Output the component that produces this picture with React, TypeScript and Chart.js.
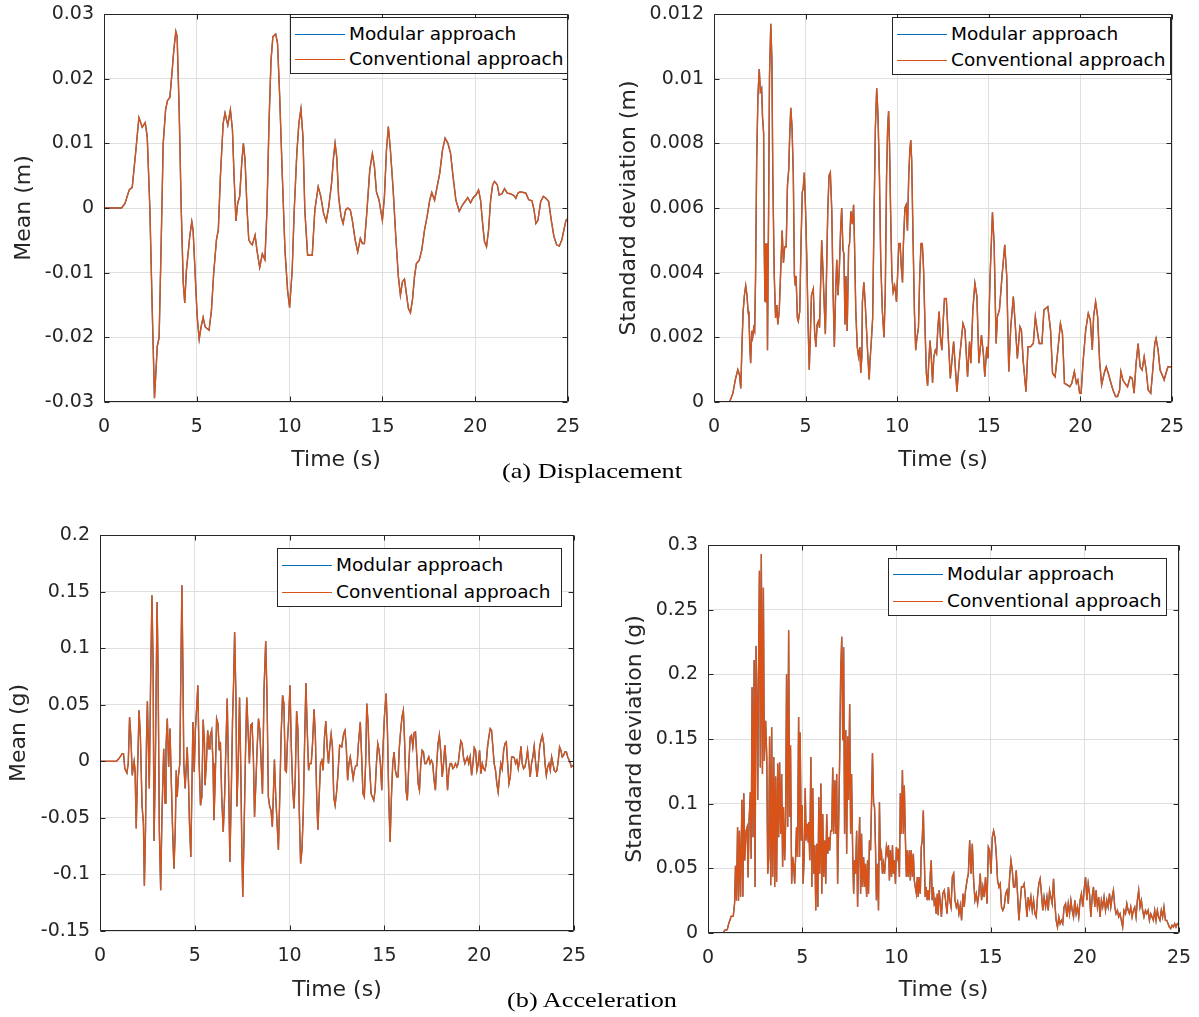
import React, { useEffect, useRef } from "react";
import { Chart, registerables } from "chart.js";

Chart.register(...registerables);

// ---------------- DATA ----------------
// [time (s), value] samples.
// The modular and conventional curves coincide to within a pixel in every panel.

const timeTicks = [0, 5, 10, 15, 20, 25];
const dispMeanTicks = [-0.03, -0.02, -0.01, 0, 0.01, 0.02, 0.03];
const dispStdTicks = [0, 0.002, 0.004, 0.006, 0.008, 0.01, 0.012];
const accMeanTicks = [-0.15, -0.1, -0.05, 0, 0.05, 0.1, 0.15, 0.2];
const accStdTicks = [0, 0.05, 0.1, 0.15, 0.2, 0.25, 0.3];

const dispMeanConventional: [number, number][] = [
  [0, 0], [0.95, 0], [1.13, 0.0007], [1.36, 0.0028], [1.52, 0.0032], [1.72, 0.009], [1.88, 0.014],
  [2.06, 0.0125], [2.22, 0.0132], [2.33, 0.011], [2.47, 0], [2.6, -0.0158], [2.72, -0.0294],
  [2.87, -0.0214], [2.97, -0.02], [3.08, -0.0055], [3.19, 0.01], [3.32, 0.0152], [3.42, 0.0166],
  [3.55, 0.0171], [3.66, 0.0208], [3.76, 0.0244], [3.87, 0.0273], [3.94, 0.0265], [4.05, 0.0152],
  [4.16, 0], [4.27, -0.0116], [4.35, -0.0147], [4.44, -0.0096], [4.55, -0.0065], [4.62, -0.0044],
  [4.73, -0.0021], [4.8, -0.0034], [4.91, -0.0101], [5.02, -0.0168], [5.13, -0.0203], [5.23, -0.0184],
  [5.34, -0.0169], [5.45, -0.0184], [5.66, -0.0189], [5.79, -0.0158], [5.91, -0.0101], [6.06, -0.0049],
  [6.16, -0.0034], [6.27, 0.0048], [6.42, 0.0131], [6.52, 0.0147], [6.67, 0.0128], [6.81, 0.0152],
  [6.92, 0.0121], [7.01, 0.0048], [7.11, -0.002], [7.2, 0.0007], [7.31, 0.0018], [7.42, 0.0069],
  [7.51, 0.01], [7.6, 0.0074], [7.71, -0.0003], [7.8, -0.0049], [7.89, -0.0054], [7.99, -0.0057],
  [8.14, -0.0042], [8.24, -0.0065], [8.39, -0.0092], [8.53, -0.0071], [8.67, -0.008], [8.78, -0.0003],
  [8.89, 0.0131], [9.0, 0.0229], [9.1, 0.0265], [9.25, 0.0269], [9.35, 0.0255], [9.46, 0.0177],
  [9.61, 0.0048], [9.75, -0.0065], [9.89, -0.0127], [10.0, -0.0154], [10.14, -0.0096], [10.25, -0.0003],
  [10.39, 0.0085], [10.5, 0.0131], [10.61, 0.0153], [10.72, 0.011], [10.82, -0.0003], [10.97, -0.0073],
  [11.22, -0.0073], [11.36, -0.0003], [11.54, 0.0033], [11.68, 0.0018], [11.83, -0.0008], [11.97, -0.0021],
  [12.11, 0.0002], [12.26, 0.0038], [12.37, 0.0079], [12.45, 0.01], [12.54, 0.0079], [12.64, 0.0018],
  [12.77, -0.0013], [12.88, -0.0024], [13.02, -0.0003], [13.13, 0], [13.27, -0.0003], [13.38, -0.0019],
  [13.53, -0.0049], [13.67, -0.0068], [13.81, -0.0047], [13.92, -0.0055], [14.03, -0.0055], [14.17, -0.0003],
  [14.32, 0.0059], [14.46, 0.0084], [14.57, 0.0064], [14.68, 0.0025], [14.82, 0.0012], [15.0, -0.0019],
  [15.11, 0.0018], [15.22, 0.009], [15.32, 0.0126], [15.43, 0.009], [15.58, 0.0028], [15.72, -0.0044],
  [15.86, -0.0106], [15.97, -0.0135], [16.08, -0.0114], [16.19, -0.011], [16.29, -0.0132], [16.4, -0.0155],
  [16.51, -0.0162], [16.62, -0.0142], [16.73, -0.0106], [16.83, -0.0086], [16.98, -0.0081], [17.12, -0.0065],
  [17.27, -0.0034], [17.41, -0.0013], [17.55, 0.0012], [17.66, 0.0024], [17.81, 0.0012], [17.95, 0.0033],
  [18.09, 0.0054], [18.24, 0.009], [18.38, 0.0108], [18.53, 0.01], [18.67, 0.0085], [18.81, 0.0048],
  [18.96, 0.0012], [19.14, -0.0005], [19.32, 0.0005], [19.5, 0.0012], [19.6, 0.0016], [19.75, 0.0008],
  [19.89, 0.0016], [20.04, 0.002], [20.18, 0.0028], [20.29, 0.0012], [20.4, -0.0024], [20.5, -0.0052],
  [20.61, -0.006], [20.72, -0.0034], [20.83, 0.0012], [20.94, 0.0036], [21.04, 0.0041], [21.19, 0.0036],
  [21.29, 0.002], [21.44, 0.0022], [21.58, 0.003], [21.73, 0.0023], [21.91, 0.0022], [22.09, 0.0019],
  [22.19, 0.0015], [22.3, 0.0023], [22.41, 0.0025], [22.59, 0.0024], [22.73, 0.0023], [22.88, 0.0013],
  [23.06, 0.0011], [23.17, -0.0003], [23.27, -0.0024], [23.38, -0.0019], [23.53, 0.001], [23.67, 0.0018],
  [23.81, 0.0015], [23.96, 0.001], [24.1, -0.0019], [24.24, -0.0044], [24.39, -0.0057], [24.53, -0.0059],
  [24.67, -0.0049], [24.78, -0.0034], [24.89, -0.0019], [25.0, -0.0016],
];
const dispMeanModular = dispMeanConventional;

const dispStdConventional: [number, number][] = [
  [0, 0], [0.85, 0], [1.03, 0.00027], [1.16, 0.00068], [1.3, 0.001], [1.39, 0.00084], [1.46, 0.00042],
  [1.53, 0.0018], [1.59, 0.0028], [1.66, 0.0033], [1.73, 0.0036], [1.8, 0.0033], [1.86, 0.0028],
  [1.91, 0.0026], [1.95, 0.0018], [2.0, 0.0012], [2.06, 0.0022], [2.11, 0.002], [2.17, 0.0023],
  [2.22, 0.0022], [2.27, 0.0039], [2.33, 0.0075], [2.4, 0.0095], [2.47, 0.0103], [2.53, 0.0096],
  [2.6, 0.0097], [2.65, 0.0088], [2.71, 0.0083], [2.74, 0.0049], [2.78, 0.0031], [2.82, 0.0049],
  [2.85, 0.0031], [2.89, 0.0049], [2.92, 0.0016], [2.98, 0.0059], [3.03, 0.0101], [3.1, 0.0117],
  [3.16, 0.0106], [3.21, 0.007], [3.29, 0.0039], [3.36, 0.0026], [3.43, 0.003], [3.48, 0.0024],
  [3.56, 0.0028], [3.63, 0.0039], [3.72, 0.0053], [3.79, 0.0043], [3.86, 0.0048], [3.94, 0.0048],
  [4.01, 0.0067], [4.08, 0.0072], [4.13, 0.0082], [4.19, 0.0091], [4.26, 0.0085], [4.33, 0.007],
  [4.39, 0.0039], [4.44, 0.0036], [4.48, 0.0039], [4.55, 0.0026], [4.6, 0.0025], [4.68, 0.0028],
  [4.75, 0.0049], [4.82, 0.0065], [4.87, 0.0066], [4.93, 0.0071], [5.0, 0.0059], [5.07, 0.0043],
  [5.14, 0.0023], [5.2, 0.001], [5.27, 0.0023], [5.32, 0.0033], [5.42, 0.0035], [5.49, 0.0022],
  [5.56, 0.0017], [5.63, 0.0024], [5.7, 0.0025], [5.76, 0.0023], [5.83, 0.0039], [5.88, 0.005],
  [5.96, 0.0039], [6.03, 0.0028], [6.08, 0.0021], [6.14, 0.0039], [6.21, 0.0059], [6.28, 0.007],
  [6.35, 0.0071], [6.43, 0.0059], [6.5, 0.0034], [6.57, 0.0017], [6.64, 0.0034], [6.7, 0.0044],
  [6.77, 0.0033], [6.84, 0.0041], [6.91, 0.0053], [6.97, 0.006], [7.04, 0.0047], [7.09, 0.0046],
  [7.15, 0.0024], [7.2, 0.0039], [7.27, 0.0022], [7.35, 0.0048], [7.4, 0.0049], [7.47, 0.0059],
  [7.55, 0.0055], [7.62, 0.0061], [7.67, 0.0049], [7.74, 0.0028], [7.82, 0.0017], [7.89, 0.0014],
  [7.96, 0.0017], [8.01, 0.0009], [8.07, 0.0014], [8.1, 0.0031], [8.18, 0.0037], [8.25, 0.0031],
  [8.32, 0.0023], [8.39, 0.0015], [8.47, 0.0007], [8.52, 0.0013], [8.59, 0.0019], [8.66, 0.0026],
  [8.74, 0.0059], [8.81, 0.0085], [8.88, 0.0097], [8.95, 0.0089], [9.03, 0.007], [9.1, 0.0044],
  [9.19, 0.0028], [9.28, 0.002], [9.35, 0.0034], [9.42, 0.007], [9.48, 0.0085], [9.53, 0.009],
  [9.58, 0.008], [9.64, 0.0059], [9.71, 0.0039], [9.78, 0.0034], [9.86, 0.0036], [9.91, 0.0034],
  [9.96, 0.0031], [10.02, 0.0039], [10.09, 0.0049], [10.16, 0.0049], [10.22, 0.0042], [10.29, 0.0037],
  [10.34, 0.0049], [10.42, 0.006], [10.49, 0.0061], [10.56, 0.0053], [10.63, 0.007], [10.69, 0.0078],
  [10.74, 0.0081], [10.79, 0.0075], [10.87, 0.0049], [10.94, 0.0028], [11.01, 0.0016], [11.08, 0.002],
  [11.16, 0.0023], [11.23, 0.0039], [11.3, 0.0049], [11.37, 0.0049], [11.44, 0.0041], [11.52, 0.0023],
  [11.59, 0.0009], [11.66, 0.0005], [11.73, 0.0013], [11.79, 0.0019], [11.86, 0.0014], [11.93, 0.0006],
  [12.0, 0.0014], [12.08, 0.0016], [12.15, 0.0015], [12.22, 0.0023], [12.29, 0.0028], [12.36, 0.002],
  [12.44, 0.0016], [12.51, 0.0025], [12.58, 0.0032], [12.68, 0.0032], [12.9, 0.00073], [13.08, 0.00187],
  [13.26, 0.00032], [13.41, 0.0014], [13.59, 0.00243], [13.7, 0.00223], [13.84, 0.00078], [13.95, 0.00187],
  [14.02, 0.0012], [14.13, 0.00285], [14.24, 0.00367], [14.35, 0.00326], [14.46, 0.0012], [14.6, 0.00207],
  [14.71, 0.00145], [14.78, 0.00078], [14.89, 0.00171], [14.96, 0.00135], [15.07, 0.00388], [15.2, 0.00587],
  [15.29, 0.00491], [15.4, 0.00181], [15.47, 0.00264], [15.58, 0.00285], [15.72, 0.00388], [15.87, 0.00486],
  [15.98, 0.00388], [16.09, 0.00094], [16.2, 0.00233], [16.34, 0.00326], [16.45, 0.00233], [16.56, 0.00135],
  [16.7, 0.00233], [16.78, 0.00223], [16.88, 0.00125], [17.03, 0.00032], [17.14, 0.00171], [17.28, 0.00171],
  [17.43, 0.00181], [17.54, 0.00264], [17.64, 0.00223], [17.75, 0.00181], [17.9, 0.00181], [18.01, 0.00285],
  [18.12, 0.0029], [18.22, 0.00295], [18.37, 0.00223], [18.48, 0.00089], [18.62, 0.00078], [18.77, 0.00161],
  [18.91, 0.00243], [19.02, 0.00212], [19.13, 0.00058], [19.28, 0.00053], [19.42, 0.00047], [19.53, 0.00058],
  [19.67, 0.00094], [19.78, 0.00058], [19.86, 0.00068], [19.96, 0.00027], [20.04, 0.00027], [20.14, 0.0012],
  [20.29, 0.00223], [20.43, 0.00274], [20.54, 0.00254], [20.65, 0.00161], [20.72, 0.00264], [20.83, 0.0031],
  [20.94, 0.00264], [21.05, 0.00125], [21.16, 0.00053], [21.3, 0.00089], [21.41, 0.00109], [21.52, 0.00089],
  [21.67, 0.00058], [21.78, 0.00037], [21.92, 0.00017], [22.03, 0.00017], [22.14, 0.00037], [22.21, 0.00094],
  [22.32, 0.00068], [22.43, 0.00058], [22.57, 0.00047], [22.72, 0.00078], [22.83, 0.00073], [22.93, 0.00027],
  [23.04, 0.0012], [23.15, 0.00181], [23.26, 0.00109], [23.37, 0.00099], [23.48, 0.0014], [23.59, 0.00099],
  [23.7, 0.00037], [23.84, 0.00027], [23.95, 0.00099], [24.06, 0.00181], [24.13, 0.00197], [24.24, 0.00161],
  [24.35, 0.00099], [24.46, 0.00084], [24.57, 0.00068], [24.67, 0.00089], [24.78, 0.00109], [25.0, 0.00109],
];
const dispStdModular = dispStdConventional;

const accMeanConventional: [number, number][] = [
  [0, 0], [0.86, 0], [1.0, 0.0024], [1.17, 0.0068], [1.24, 0.0068], [1.31, -0.0065], [1.42, -0.0103],
  [1.49, -0.002], [1.56, 0.039], [1.63, 0.0215], [1.7, -0.0124], [1.8, 0], [1.85, -0.008], [1.91, -0.0595],
  [1.99, -0.002], [2.06, 0.045], [2.13, 0.0215], [2.22, -0.04], [2.29, -0.055], [2.34, -0.11], [2.4, -0.061],
  [2.45, 0.0156], [2.5, 0.053], [2.57, -0.002], [2.6, -0.024], [2.67, 0.0716], [2.74, 0.1467], [2.8, 0.0863],
  [2.85, -0.0704], [2.92, -0.002], [3.01, 0.1408], [3.06, 0.0863], [3.13, -0.061], [3.2, -0.114], [3.27, -0.046],
  [3.36, 0.011], [3.43, -0.037], [3.48, 0.0127], [3.55, 0.0377], [3.62, -0.005], [3.69, 0.029], [3.76, -0.0168],
  [3.83, -0.061], [3.9, -0.0949], [3.97, -0.061], [4.02, -0.008], [4.07, -0.0315], [4.14, -0.0124], [4.21, -0.002],
  [4.27, 0.0863], [4.32, 0.1555], [4.37, 0.0863], [4.42, -0.002], [4.49, -0.024], [4.6, 0.0127], [4.67, -0.0197],
  [4.72, -0.055], [4.79, -0.0846], [4.84, -0.0315], [4.9, 0.0348], [4.97, -0.0094], [5.03, 0.0274], [5.09, 0.045],
  [5.16, 0.0672], [5.23, -0.002], [5.3, -0.0389], [5.37, -0.0315], [5.44, 0.0368], [5.51, 0.0156], [5.54, -0.0212],
  [5.61, -0.002], [5.68, 0.0274], [5.75, 0.011], [5.8, 0.0215], [5.89, 0.0274], [5.96, -0.002], [6.01, -0.052],
  [6.08, -0.0138], [6.15, 0.0377], [6.22, 0.0333], [6.29, 0.0097], [6.35, 0.0171], [6.42, -0.0315], [6.5, -0.0625],
  [6.57, -0.0315], [6.64, 0.0127], [6.71, 0.0554], [6.77, -0.002], [6.85, -0.089], [6.92, -0.0315], [6.99, 0.0362],
  [7.05, 0.0716], [7.1, 0.1143], [7.17, 0.0569], [7.22, -0.04], [7.29, -0.002], [7.36, 0.0563], [7.43, -0.0109],
  [7.48, -0.0757], [7.53, -0.12], [7.6, -0.061], [7.67, 0.0038], [7.74, 0.0563], [7.81, 0.0274], [7.88, -0.002],
  [7.95, 0.0318], [8.02, 0.0333], [8.09, 0.0038], [8.15, -0.0492], [8.22, -0.0197], [8.29, 0.0127], [8.36, 0.0377],
  [8.43, 0.0274], [8.5, -0.002], [8.57, -0.0286], [8.65, 0.0628], [8.74, 0.1064], [8.81, 0.0569], [8.88, -0.0315],
  [8.95, -0.04], [9.02, -0.0433], [9.09, -0.058], [9.14, -0.0315], [9.2, 0.0015], [9.27, -0.0315], [9.34, -0.055],
  [9.41, -0.0781], [9.48, -0.0315], [9.55, 0.0215], [9.63, 0.0583], [9.7, 0.051], [9.77, -0.008], [9.83, -0.0094],
  [9.88, 0.0156], [9.95, 0.0362], [10.02, 0.0672], [10.09, 0.0127], [10.16, -0.0227], [10.23, -0.0418],
  [10.3, -0.0138], [10.37, 0.0445], [10.44, 0.0274], [10.51, -0.0433], [10.58, -0.0904], [10.65, -0.0787],
  [10.72, -0.0463], [10.79, 0.0156], [10.86, 0.0692], [10.93, 0.0274], [11.0, -0.008], [11.05, -0.002],
  [11.14, -0.002], [11.21, 0.0156], [11.29, 0.046], [11.36, 0.0215], [11.43, -0.0315], [11.49, -0.0604],
  [11.56, -0.0315], [11.63, -0.002], [11.7, 0.0009], [11.77, -0.008], [11.84, 0.0215], [11.91, 0.0356],
  [11.98, 0.0127], [12.05, -0.002], [12.12, 0.0127], [12.19, 0.0239], [12.26, 0.0127], [12.33, -0.0315],
  [12.4, -0.0389], [12.47, -0.0286], [12.54, -0.0138], [12.64, 0.0141], [12.75, 0.0127], [12.85, 0.0245],
  [12.92, 0.0274], [12.99, 0.0127], [13.06, -0.0168], [13.13, -0.002], [13.2, 0.0038], [13.27, -0.005],
  [13.35, -0.0153], [13.42, -0.008], [13.49, -0.0038], [13.56, -0.0038], [13.63, 0.0156], [13.73, 0.0348],
  [13.8, 0.0038], [13.87, -0.0286], [13.94, -0.0315], [14.01, -0.002], [14.07, 0.051], [14.14, 0.0333],
  [14.21, -0.002], [14.3, -0.0286], [14.37, -0.0315], [14.44, -0.0345], [14.51, -0.0256], [14.58, -0.002],
  [14.65, 0.0156], [14.72, 0.0097], [14.79, -0.002], [14.86, -0.0256], [14.93, 0.0127], [15.0, 0.0392],
  [15.09, 0.0598], [15.16, 0.0274], [15.23, -0.0315], [15.3, -0.0713], [15.37, -0.0315], [15.44, -0.002],
  [15.51, 0.0082], [15.58, -0.008], [15.65, -0.0138], [15.72, -0.0138], [15.79, 0.0127], [15.86, 0.0274],
  [15.93, 0.0392], [16.0, 0.045], [16.07, 0.0156], [16.14, -0.0256], [16.21, -0.0345], [16.29, -0.002],
  [16.36, 0.0215], [16.43, 0.023], [16.5, 0.0127], [16.57, 0.0253], [16.64, 0.0259], [16.71, 0.0038],
  [16.78, -0.0197], [16.85, -0.0256], [16.92, -0.002], [16.99, 0.0097], [17.06, 0.0082], [17.13, -0.002],
  [17.2, -0.002], [17.27, 0.0009], [17.34, 0.0038], [17.41, -0.002], [17.48, 0.0009], [17.55, -0.002],
  [17.62, -0.0168], [17.69, -0.0256], [17.76, -0.002], [17.83, 0.0156], [17.9, 0.0233], [17.98, 0.0068],
  [18.05, -0.0138], [18.12, -0.002], [18.19, 0.0141], [18.26, -0.002], [18.33, -0.0256], [18.4, -0.008],
  [18.47, -0.002], [18.54, -0.002], [18.61, -0.0065], [18.68, -0.005], [18.75, -0.002], [18.82, -0.005],
  [18.89, -0.002], [18.96, 0.0082], [19.03, 0.018], [19.1, 0.0156], [19.17, 0.0038], [19.24, -0.002],
  [19.31, 0.0009], [19.38, 0.0038], [19.45, -0.002], [19.52, 0.0038], [19.6, -0.0124], [19.67, -0.002],
  [19.74, 0.0121], [19.81, 0.0097], [19.88, -0.008], [19.95, -0.002], [20.02, 0.0097], [20.09, -0.0109],
  [20.16, -0.002], [20.23, -0.0065], [20.3, -0.008], [20.37, -0.002], [20.44, 0.0127], [20.51, 0.0215],
  [20.58, 0.0289], [20.65, 0.0274], [20.72, 0.0127], [20.79, -0.002], [20.86, -0.008], [20.93, -0.0197],
  [21.0, -0.0271], [21.07, -0.0138], [21.14, -0.002], [21.21, -0.0068], [21.29, 0.0097], [21.36, 0.0156],
  [21.43, 0.0171], [21.5, -0.002], [21.57, -0.0197], [21.64, -0.0138], [21.71, 0.0038], [21.78, 0.0038],
  [21.85, 0.0032], [21.92, -0.002], [21.99, 0.0009], [22.06, -0.0065], [22.13, 0.0009], [22.2, 0.0133],
  [22.27, -0.002], [22.34, -0.0065], [22.41, -0.005], [22.48, 0.0009], [22.55, 0.0097], [22.62, -0.002],
  [22.69, -0.0138], [22.76, -0.002], [22.83, 0.0038], [22.9, 0.0133], [22.98, -0.002], [23.05, -0.0138],
  [23.12, -0.002], [23.19, 0.0127], [23.26, 0.0186], [23.33, 0.023], [23.4, 0.0156], [23.47, -0.002],
  [23.54, -0.0124], [23.61, -0.005], [23.68, -0.002], [23.75, -0.008], [23.82, 0.0038], [23.89, -0.002],
  [23.96, -0.008], [24.03, -0.0094], [24.1, -0.008], [24.17, 0.0009], [24.24, 0.0127], [24.31, 0.0097],
  [24.38, 0.0038], [24.45, 0.0053], [24.52, 0.0082], [24.6, 0.0082], [24.67, 0.0038], [24.74, 0.0009],
  [24.81, -0.002], [24.86, -0.005], [25.0, -0.003],
];
const accMeanModular = accMeanConventional;

const accStdConventional: [number, number][] = [
  [0, 0], [0.81, 0], [0.88, 0.002], [1.02, 0.0026], [1.09, 0.0067], [1.16, 0.0098], [1.23, 0.0129],
  [1.34, 0.0129], [1.41, 0.0227], [1.46, 0.052], [1.51, 0.025], [1.57, 0.082], [1.62, 0.025], [1.67, 0.079],
  [1.73, 0.028], [1.8, 0.103], [1.85, 0.028], [1.9, 0.108], [1.95, 0.056], [2.02, 0.079], [2.08, 0.082],
  [2.13, 0.043], [2.18, 0.087], [2.25, 0.109], [2.29, 0.0575], [2.34, 0.19], [2.39, 0.074], [2.45, 0.211],
  [2.5, 0.0356], [2.55, 0.222], [2.61, 0.167], [2.64, 0.103], [2.68, 0.2], [2.73, 0.28], [2.78, 0.128],
  [2.83, 0.293], [2.89, 0.123], [2.94, 0.267], [2.99, 0.133], [3.06, 0.164], [3.12, 0.136], [3.17, 0.0459],
  [3.22, 0.0575], [3.27, 0.152], [3.33, 0.0369], [3.38, 0.159], [3.43, 0.0433], [3.49, 0.136], [3.54, 0.0356],
  [3.59, 0.121], [3.64, 0.0394], [3.7, 0.131], [3.75, 0.074], [3.8, 0.132], [3.86, 0.0768], [3.91, 0.123],
  [3.96, 0.051], [4.01, 0.0974], [4.07, 0.0562], [4.12, 0.0845], [4.17, 0.2], [4.23, 0.082], [4.28, 0.234],
  [4.33, 0.0897], [4.38, 0.145], [4.44, 0.0381], [4.49, 0.0588], [4.54, 0.0536], [4.6, 0.0381], [4.65, 0.0588],
  [4.7, 0.082], [4.75, 0.0588], [4.81, 0.167], [4.86, 0.0588], [4.89, 0.155], [4.95, 0.0716], [5.0, 0.0987],
  [5.05, 0.0381], [5.11, 0.0613], [5.16, 0.112], [5.21, 0.0716], [5.26, 0.0845], [5.32, 0.0704], [5.35, 0.0858],
  [5.4, 0.0562], [5.46, 0.136], [5.51, 0.0356], [5.56, 0.112], [5.62, 0.0459], [5.67, 0.0678], [5.72, 0.0175],
  [5.77, 0.069], [5.83, 0.0201], [5.88, 0.105], [5.93, 0.0459], [5.99, 0.1155], [6.04, 0.0304], [6.09, 0.092],
  [6.14, 0.0433], [6.2, 0.0716], [6.25, 0.0381], [6.3, 0.092], [6.36, 0.0613], [6.41, 0.074], [6.46, 0.0639],
  [6.51, 0.079], [6.57, 0.079], [6.62, 0.128], [6.67, 0.0768], [6.73, 0.118], [6.78, 0.0768], [6.83, 0.123],
  [6.88, 0.0381], [6.94, 0.0897], [6.99, 0.137], [7.04, 0.2], [7.1, 0.229], [7.15, 0.149], [7.2, 0.221],
  [7.25, 0.0768], [7.31, 0.157], [7.36, 0.0613], [7.41, 0.152], [7.46, 0.103], [7.52, 0.177], [7.57, 0.0768],
  [7.62, 0.123], [7.68, 0.0613], [7.73, 0.0304], [7.78, 0.0562], [7.83, 0.0459], [7.89, 0.079], [7.94, 0.0201],
  [7.99, 0.0562], [8.05, 0.0897], [8.1, 0.0304], [8.15, 0.0768], [8.2, 0.0356], [8.26, 0.0588], [8.31, 0.0356],
  [8.36, 0.0536], [8.42, 0.0278], [8.47, 0.0562], [8.52, 0.0304], [8.57, 0.0716], [8.63, 0.0639], [8.68, 0.1],
  [8.73, 0.139], [8.79, 0.1], [8.84, 0.0974], [8.89, 0.0665], [8.94, 0.0253], [9.0, 0.0536], [9.05, 0.0175],
  [9.1, 0.101], [9.15, 0.0562], [9.21, 0.0613], [9.26, 0.0459], [9.31, 0.0536], [9.37, 0.0459], [9.42, 0.0562],
  [9.47, 0.0665], [9.52, 0.0613], [9.58, 0.0678], [9.63, 0.0407], [9.68, 0.0639], [9.74, 0.0433], [9.79, 0.0678],
  [9.84, 0.0459], [9.89, 0.0562], [9.95, 0.0381], [10.0, 0.0665], [10.05, 0.0588], [10.11, 0.0652],
  [10.16, 0.0433], [10.21, 0.108], [10.26, 0.0768], [10.32, 0.126], [10.37, 0.0768], [10.42, 0.114],
  [10.48, 0.0716], [10.53, 0.0433], [10.58, 0.0639], [10.63, 0.0433], [10.69, 0.0639], [10.74, 0.0407],
  [10.79, 0.0639], [10.85, 0.0433], [10.9, 0.0613], [10.95, 0.0407], [11.0, 0.0356], [11.06, 0.0304],
  [11.11, 0.0433], [11.16, 0.0278], [11.21, 0.0433], [11.27, 0.0304], [11.32, 0.0665], [11.37, 0.0716],
  [11.43, 0.0948], [11.48, 0.0588], [11.53, 0.0278], [11.58, 0.0356], [11.64, 0.0253], [11.69, 0.033],
  [11.74, 0.0253], [11.8, 0.0459], [11.85, 0.0562], [11.9, 0.0253], [11.95, 0.0356], [12.01, 0.0227],
  [12.06, 0.0253], [12.11, 0.0149], [12.17, 0.0304], [12.22, 0.0137], [12.27, 0.033], [12.32, 0.0253],
  [12.39, 0.0124], [12.46, 0.0304], [12.54, 0.033], [12.61, 0.0253], [12.69, 0.0149], [12.76, 0.0356],
  [12.83, 0.0253], [12.9, 0.0201], [12.97, 0.0433], [13.04, 0.0459], [13.11, 0.0253], [13.18, 0.0201],
  [13.25, 0.024], [13.32, 0.0149], [13.39, 0.0214], [13.46, 0.0098], [13.53, 0.0304], [13.6, 0.0201],
  [13.67, 0.033], [13.75, 0.0407], [13.82, 0.0459], [13.89, 0.0716], [13.96, 0.0459], [14.03, 0.069],
  [14.1, 0.0407], [14.17, 0.0253], [14.24, 0.0304], [14.31, 0.0227], [14.38, 0.0304], [14.45, 0.0459],
  [14.52, 0.0253], [14.59, 0.0356], [14.66, 0.0278], [14.73, 0.0433], [14.81, 0.0227], [14.88, 0.0665],
  [14.95, 0.0639], [15.02, 0.0459], [15.09, 0.074], [15.16, 0.079], [15.23, 0.074], [15.3, 0.0613],
  [15.37, 0.0407], [15.44, 0.0356], [15.51, 0.0381], [15.58, 0.0201], [15.65, 0.0175], [15.72, 0.0201],
  [15.8, 0.0304], [15.87, 0.033], [15.94, 0.0227], [16.01, 0.0433], [16.08, 0.0562], [16.15, 0.0485],
  [16.22, 0.0356], [16.29, 0.0356], [16.36, 0.0485], [16.43, 0.0304], [16.5, 0.0098], [16.57, 0.0227],
  [16.64, 0.0356], [16.71, 0.0356], [16.78, 0.0381], [16.86, 0.0253], [16.93, 0.0124], [17.0, 0.0278],
  [17.07, 0.0201], [17.14, 0.0278], [17.21, 0.0175], [17.28, 0.0253], [17.35, 0.0149], [17.42, 0.0124],
  [17.49, 0.0278], [17.56, 0.0381], [17.63, 0.042], [17.7, 0.0304], [17.77, 0.0175], [17.84, 0.0278],
  [17.92, 0.0201], [17.99, 0.0278], [18.06, 0.0175], [18.13, 0.033], [18.2, 0.0278], [18.27, 0.0227],
  [18.34, 0.042], [18.41, 0.0227], [18.48, 0.0098], [18.55, 0.0046], [18.62, 0.0124], [18.69, 0.0072],
  [18.76, 0.0098], [18.83, 0.0072], [18.9, 0.0201], [18.98, 0.0227], [19.05, 0.0124], [19.12, 0.0227],
  [19.19, 0.0149], [19.26, 0.0253], [19.33, 0.0175], [19.4, 0.0124], [19.47, 0.0253], [19.54, 0.0149],
  [19.61, 0.0201], [19.68, 0.0124], [19.75, 0.0253], [19.82, 0.0304], [19.89, 0.0201], [19.96, 0.033],
  [20.04, 0.0433], [20.11, 0.0253], [20.18, 0.0381], [20.25, 0.0304], [20.32, 0.0124], [20.39, 0.0278],
  [20.46, 0.0356], [20.53, 0.0201], [20.6, 0.033], [20.67, 0.0201], [20.74, 0.0278], [20.81, 0.0124],
  [20.88, 0.0253], [20.95, 0.0201], [21.02, 0.0278], [21.1, 0.0175], [21.17, 0.0253], [21.24, 0.0201],
  [21.31, 0.0304], [21.38, 0.0201], [21.45, 0.0278], [21.52, 0.033], [21.59, 0.0201], [21.66, 0.0149],
  [21.73, 0.0175], [21.8, 0.0124], [21.87, 0.0149], [21.94, 0.0098], [22.01, 0.0046], [22.08, 0.0175],
  [22.16, 0.0149], [22.23, 0.0227], [22.3, 0.0175], [22.37, 0.0149], [22.44, 0.0201], [22.51, 0.0124],
  [22.58, 0.0175], [22.65, 0.0201], [22.72, 0.0124], [22.79, 0.0253], [22.86, 0.033], [22.93, 0.0201],
  [23.0, 0.0253], [23.07, 0.0175], [23.14, 0.0124], [23.22, 0.0175], [23.29, 0.0149], [23.36, 0.0175],
  [23.43, 0.0098], [23.5, 0.0149], [23.57, 0.0124], [23.64, 0.0098], [23.71, 0.0175], [23.78, 0.0098],
  [23.85, 0.0175], [23.92, 0.0124], [23.99, 0.0098], [24.06, 0.0175], [24.13, 0.0124], [24.2, 0.0201],
  [24.28, 0.0098], [24.35, 0.0098], [24.42, 0.0072], [24.49, 0.0046], [24.56, 0.0034], [24.63, 0.0059],
  [24.7, 0.0046], [24.77, 0.0072], [24.84, 0.0046], [24.91, 0.0072], [25.0, 0.006],
];
const accStdModular = accStdConventional;

const seriesNames = ["Modular approach", "Conventional approach"];
const captions = ["(a) Displacement", "(b) Acceleration"];

// ---------------- STYLE ----------------
const BLUE = "#0072BD";
const ORANGE = "#D95319";
const AXIS = "#262626";
const GRID = "#dfdfdf";
const SANS = "'DejaVu Sans', 'Liberation Sans', sans-serif";

const fmt = (v: number) => String(parseFloat(v.toFixed(4)));

const boxPlugin = {
  id: "matlabBox",
  afterDraw(chart: any) {
    const { ctx, chartArea } = chart;
    const xs = chart.scales.x;
    const ys = chart.scales.y;
    const L = Math.round(chartArea.left) + 0.5;
    const R = Math.round(chartArea.right) - 0.5;
    const T = Math.round(chartArea.top) + 0.5;
    const B = Math.round(chartArea.bottom) - 0.5;
    const tl = 5;
    ctx.save();
    ctx.strokeStyle = AXIS;
    ctx.lineWidth = 1;
    ctx.beginPath();
    ctx.rect(L, T, R - L, B - T);
    xs.ticks.forEach((t: any) => {
      const p = Math.round(xs.getPixelForValue(t.value)) + 0.5;
      ctx.moveTo(p, B);
      ctx.lineTo(p, B - tl);
      ctx.moveTo(p, T);
      ctx.lineTo(p, T + tl);
    });
    ys.ticks.forEach((t: any) => {
      const p = Math.round(ys.getPixelForValue(t.value)) + 0.5;
      ctx.moveTo(L, p);
      ctx.lineTo(L + tl, p);
      ctx.moveTo(R, p);
      ctx.lineTo(R - tl, p);
    });
    ctx.stroke();
    ctx.restore();
  },
};

type Spec = {
  left: number; top: number; width: number; height: number;
  yWidth: number; padTop: number; padRight: number; xHeight: number;
  yTitlePad: number; xTitlePad: number;
  yTitle: string; yTicks: number[];
  modular: [number, number][]; conventional: [number, number][];
  legend: { left: number; top: number; width: number; height: number; row1: number; row2: number };
};

function Plot({ s }: { s: Spec }) {
  const ref = useRef<HTMLCanvasElement | null>(null);
  useEffect(() => {
    if (!ref.current) return;
    const yMin = s.yTicks[0];
    const yMax = s.yTicks[s.yTicks.length - 1];
    const chart = new Chart(ref.current, {
      type: "line",
      data: {
        datasets: [
          {
            label: seriesNames[0],
            data: s.modular.map(([x, y]) => ({ x, y })),
            borderColor: BLUE,
            borderWidth: 1.3,
            pointRadius: 0,
            tension: 0,
            order: 2,
          },
          {
            label: seriesNames[1],
            data: s.conventional.map(([x, y]) => ({ x, y })),
            borderColor: ORANGE,
            borderWidth: 1.4,
            pointRadius: 0,
            tension: 0,
            order: 1,
          },
        ],
      },
      options: {
        animation: false,
        responsive: false,
        maintainAspectRatio: false,
        events: [],
        layout: { padding: { top: s.padTop, right: s.padRight, left: 0, bottom: 0 } },
        plugins: { legend: { display: false }, tooltip: { enabled: false } },
        scales: {
          x: {
            type: "linear",
            min: 0,
            max: 25,
            afterBuildTicks: (sc: any) => { sc.ticks = timeTicks.map((v) => ({ value: v })); },
            afterFit: (sc: any) => {
              sc.height = s.xHeight;
              sc.paddingLeft = 0;
              sc.paddingRight = 0;
            },
            grid: { color: GRID, drawTicks: false, lineWidth: 1 },
            border: { display: false },
            ticks: {
              font: { family: SANS, size: 19 },
              color: AXIS,
              padding: 14,
              maxRotation: 0,
              autoSkip: false,
              callback: (v: any) => fmt(Number(v)),
            },
            title: {
              display: true,
              text: "Time (s)",
              font: { family: SANS, size: 22 },
              color: AXIS,
              padding: { top: 0, bottom: s.xTitlePad },
            },
          },
          y: {
            type: "linear",
            min: yMin,
            max: yMax,
            afterBuildTicks: (sc: any) => { sc.ticks = s.yTicks.map((v) => ({ value: v })); },
            afterFit: (sc: any) => {
              sc.width = s.yWidth;
              sc.paddingTop = 0;
              sc.paddingBottom = 0;
            },
            grid: { color: GRID, drawTicks: false, lineWidth: 1 },
            border: { display: false },
            ticks: {
              font: { family: SANS, size: 19 },
              color: AXIS,
              padding: 10,
              autoSkip: false,
              callback: (v: any) => fmt(Number(v)),
            },
            title: {
              display: true,
              text: s.yTitle,
              font: { family: SANS, size: 22 },
              color: AXIS,
              padding: { top: s.yTitlePad, bottom: 0 },
            },
          },
        },
      },
      plugins: [boxPlugin],
    } as any);
    return () => chart.destroy();
  }, [s]);

  const lg = s.legend;
  const row = (cy: number, color: string, text: string) => (
    <div style={{ position: "absolute", left: 0, top: cy - 12, height: 24, width: "100%" }}>
      <div style={{ position: "absolute", left: 4, top: 12, width: 50, height: 1, background: color }} />
      <div
        style={{
          position: "absolute",
          left: 58,
          top: 0,
          lineHeight: "24px",
          fontFamily: SANS,
          fontSize: 18.5,
          color: "#000",
          whiteSpace: "nowrap",
        }}
      >
        {text}
      </div>
    </div>
  );

  return (
    <>
      <canvas
        ref={ref}
        width={s.width}
        height={s.height}
        style={{ position: "absolute", left: s.left, top: s.top, width: s.width, height: s.height, display: "block" }}
      />
      <div
        style={{
          position: "absolute",
          left: lg.left,
          top: lg.top,
          width: lg.width,
          height: lg.height,
          boxSizing: "border-box",
          border: `1px solid ${AXIS}`,
          background: "#fff",
        }}
      >
        {row(lg.row1, BLUE, seriesNames[0])}
        {row(lg.row2, ORANGE, seriesNames[1])}
      </div>
    </>
  );
}

const specs: Spec[] = [
  {
    left: 0, top: 0, width: 600, height: 480,
    yWidth: 104, padTop: 14, padRight: 32, xHeight: 78,
    yTitlePad: 10.8, xTitlePad: 7,
    yTitle: "Mean (m)", yTicks: dispMeanTicks,
    modular: dispMeanModular, conventional: dispMeanConventional,
    legend: { left: 290, top: 17, width: 278, height: 57, row1: 16, row2: 41 },
  },
  {
    left: 600, top: 0, width: 599, height: 480,
    yWidth: 114, padTop: 14, padRight: 27, xHeight: 78,
    yTitlePad: 15.8, xTitlePad: 7,
    yTitle: "Standard deviation (m)", yTicks: dispStdTicks,
    modular: dispStdModular, conventional: dispStdConventional,
    legend: { left: 892, top: 17, width: 279, height: 58, row1: 16, row2: 42 },
  },
  {
    left: 0, top: 500, width: 600, height: 517,
    yWidth: 100, padTop: 35, padRight: 26, xHeight: 86,
    yTitlePad: 5.8, xTitlePad: 13.8,
    yTitle: "Mean (g)", yTicks: accMeanTicks,
    modular: accMeanModular, conventional: accMeanConventional,
    legend: { left: 277, top: 548, width: 285, height: 59, row1: 16, row2: 43 },
  },
  {
    left: 600, top: 500, width: 599, height: 517,
    yWidth: 108, padTop: 45, padRight: 20, xHeight: 84,
    yTitlePad: 21.8, xTitlePad: 13.8,
    yTitle: "Standard deviation (g)", yTicks: accStdTicks,
    modular: accStdModular, conventional: accStdConventional,
    legend: { left: 888, top: 558, width: 279, height: 58, row1: 15, row2: 42 },
  },
];

function Caption({ text, cx, cy }: { text: string; cx: number; cy: number }) {
  return (
    <div
      style={{
        position: "absolute",
        left: cx - 150,
        top: cy - 13,
        width: 300,
        height: 26,
        lineHeight: "26px",
        textAlign: "center",
        fontFamily: "'Liberation Serif', 'Times New Roman', serif",
        fontSize: 21,
        color: "#000",
        transform: "scaleX(1.25)",
        transformOrigin: "center",
        whiteSpace: "nowrap",
      }}
    >
      {text}
    </div>
  );
}

export default function App() {
  return (
    <div style={{ position: "absolute", left: 0, top: 0, width: 1199, height: 1017, background: "#fff", overflow: "hidden" }}>
      {specs.map((s, i) => (
        <Plot key={i} s={s} />
      ))}
      <Caption text={captions[0]} cx={592} cy={471} />
      <Caption text={captions[1]} cx={592} cy={1000} />
    </div>
  );
}
